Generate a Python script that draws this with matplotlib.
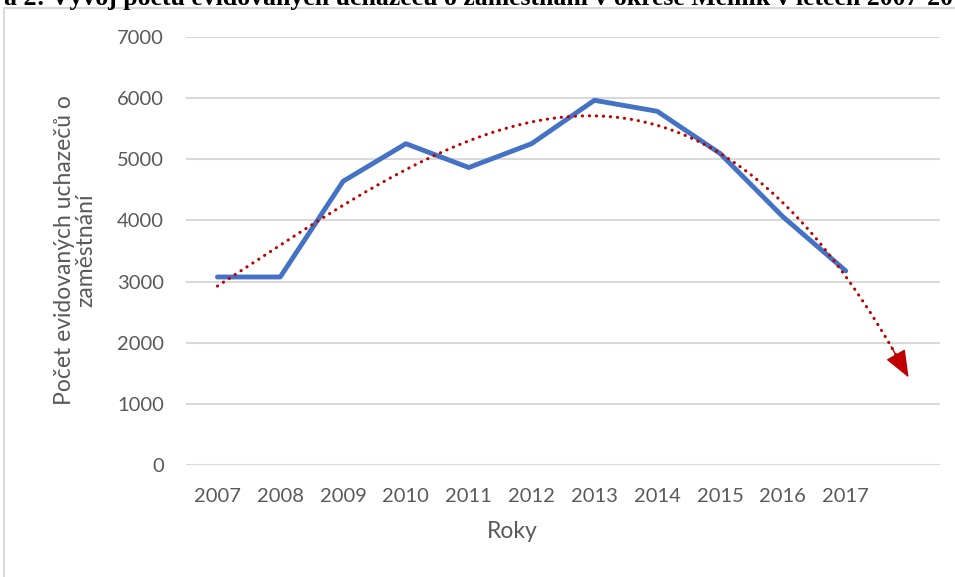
import numpy as np
import matplotlib
matplotlib.use("Agg")
import matplotlib.pyplot as plt
from matplotlib.patches import Rectangle, FancyArrowPatch

years = ["2007", "2008", "2009", "2010", "2011", "2012", "2013", "2014", "2015", "2016", "2017"]
uchazeci = [3075, 3075, 4640, 5255, 4865, 5255, 5965, 5785, 5095, 4060, 3175]
y_ticks = [0, 1000, 2000, 3000, 4000, 5000, 6000, 7000]

title = "a 2: Vývoj počtu evidovaných uchazečů o zaměstnání v okrese Mělník v letech 2007-2017"
ylabel = "Počet evidovaných uchazečů o\nzaměstnání"
xlabel = "Roky"

W, H = 955, 577
txt = "#595959"
plt.rcParams["font.family"] = ["Lato", "DejaVu Sans"]

fig = plt.figure(figsize=(W / 100, H / 100), dpi=100)

# chart frame (Excel chart area border)
fig.patches.append(Rectangle((4 / W, -0.1), 1.2, 1 - 8 / H + 0.1, transform=fig.transFigure,
                             fill=False, edgecolor="#D9D9D9", linewidth=1.5))

# caption cut off at the top of the page
fig.text(4 / W, 1 - 5 / H, title, family="Liberation Serif", weight="bold", fontsize=18.5,
         ha="left", va="baseline")

ax = fig.add_axes([186 / W, 1 - 465 / H, (940 - 186) / W, (465 - 37) / H])
x = np.arange(len(years))

ax.set_xlim(-0.5, len(years) + 0.5)
ax.set_ylim(0, 7000)
ax.set_yticks(y_ticks)
ax.set_xticks(x)
ax.set_xticklabels(years)
ax.grid(axis="y", color="#D9D9D9", linewidth=1.5)
ax.set_axisbelow(True)
for s in ax.spines.values():
    s.set_visible(False)
ax.tick_params(length=0, labelsize=14.5, labelcolor=txt)
ax.tick_params(axis="y", pad=16)
ax.tick_params(axis="x", pad=16.5)

ax.plot(x, uchazeci, color="#4472C4", linewidth=3.5, solid_capstyle="round", solid_joinstyle="round")

# polynomial trendline (order 3), forecast forward one period
coef = np.polyfit(x, uchazeci, 3)
xt = np.linspace(0, len(years), 200)
yt = np.polyval(coef, xt)
ax.plot(xt[:-3], yt[:-3], color="#C00000", linewidth=2.2, linestyle=(0, (0.1, 2.2)),
        dash_capstyle="round")
head = FancyArrowPatch((xt[-6], yt[-6]), (xt[-1], yt[-1]),
                       arrowstyle="-|>,head_length=0.95,head_width=0.38", mutation_scale=18,
                       color="#C00000", linewidth=1, shrinkA=0, shrinkB=0)
ax.add_patch(head)

fig.text(75 / W, 1 - 250 / H, ylabel, rotation=90, ha="center", va="center",
         fontsize=16.5, color=txt, linespacing=1.05)
fig.text(512 / W, 1 - 532 / H, xlabel, ha="center", va="center", fontsize=16.5, color=txt)

fig.savefig("out.png", dpi=100)
